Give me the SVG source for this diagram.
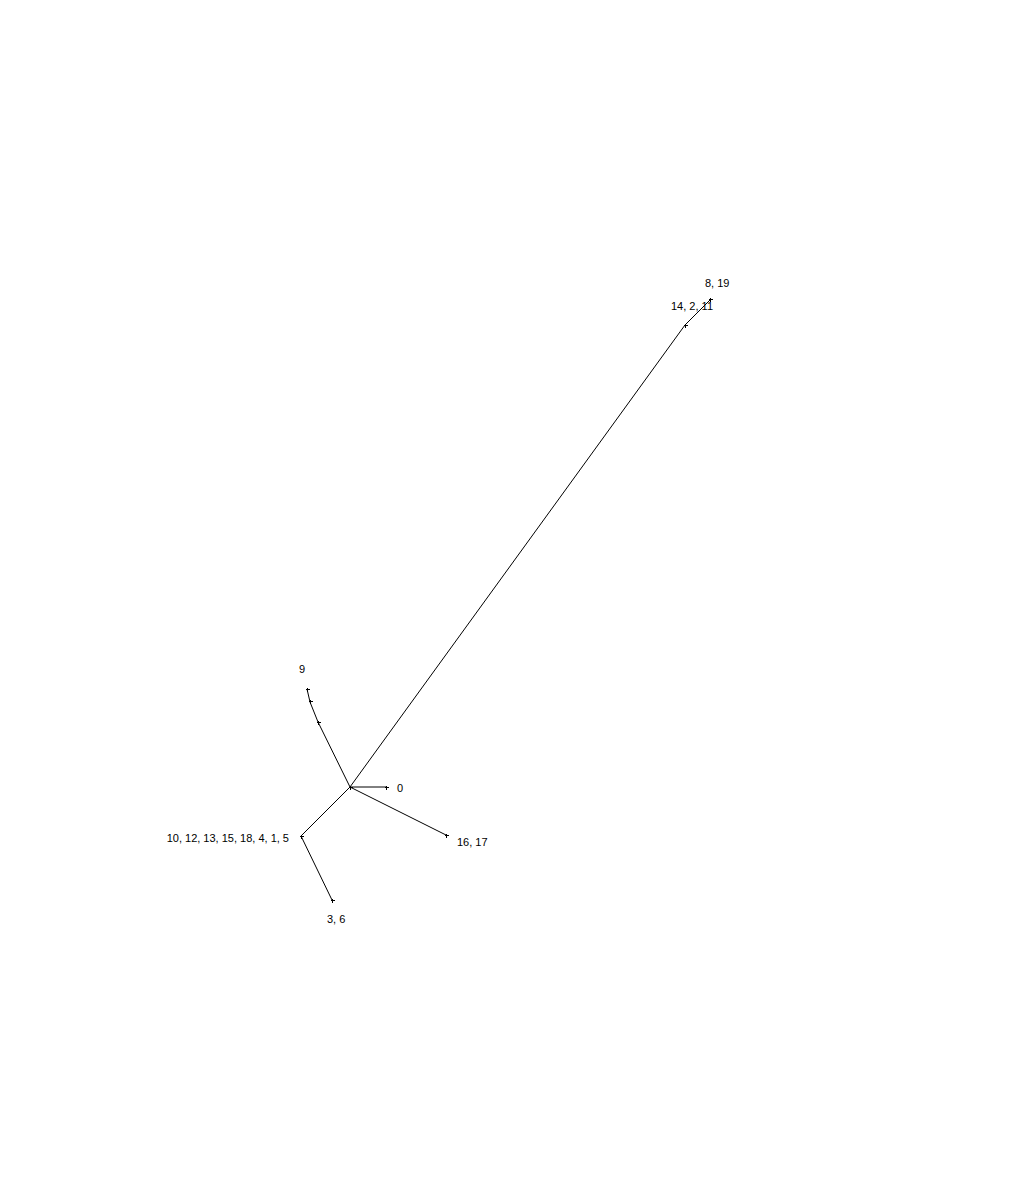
<svg xmlns="http://www.w3.org/2000/svg" width="1010" height="1200" viewBox="0 0 1010 1200">
<style>
.e{stroke:#000;stroke-width:1;fill:none}
.n{stroke:#000;stroke-width:1;fill:none;shape-rendering:crispEdges}
text{font-family:"Liberation Sans",Arial,sans-serif;font-size:11px;fill:#000}
</style>
<defs>
<path id="x" d="M-2,0H2M0,-2V2" class="n"/>
</defs>
<rect width="1010" height="1200" fill="#fff"/>
<g id="connectors">
<line class="e" x1="350" y1="787" x2="685" y2="325"/>
<line class="e" x1="685" y1="325" x2="710" y2="300"/>
<line class="e" x1="350" y1="787" x2="386" y2="787"/>
<line class="e" x1="350" y1="787" x2="446" y2="835"/>
<line class="e" x1="350" y1="787" x2="301" y2="836"/>
<line class="e" x1="301" y1="836" x2="332" y2="900"/>
<line class="e" x1="350" y1="787" x2="318" y2="722"/>
<line class="e" x1="318" y1="722" x2="310" y2="702"/>
<line class="e" x1="310" y1="702" x2="307" y2="689"/>
</g>
<g id="n-center"><use href="#x" x="350.5" y="787.5"/></g>
<g id="n-14-2-11"><use href="#x" x="685.5" y="325.5"/><text x="671" y="310">14, 2, 11</text></g>
<g id="n-8-19"><use href="#x" x="710.5" y="299.5"/><text x="705" y="287">8, 19</text></g>
<g id="n-0"><use href="#x" x="386.5" y="787.5"/><text x="397" y="792">0</text></g>
<g id="n-16-17"><use href="#x" x="446.5" y="835.5"/><text x="457" y="846">16, 17</text></g>
<g id="n-10"><use href="#x" x="301.5" y="836.5"/><text x="289" y="842" text-anchor="end">10, 12, 13, 15, 18, 4, 1, 5</text></g>
<g id="n-3-6"><use href="#x" x="332.5" y="900.5"/><text x="327" y="923">3, 6</text></g>
<g id="n-a"><use href="#x" x="318.5" y="722.5"/></g>
<g id="n-b"><use href="#x" x="310.5" y="701.5"/></g>
<g id="n-9"><use href="#x" x="307.5" y="689.5"/><text x="299" y="673">9</text></g>
</svg>
